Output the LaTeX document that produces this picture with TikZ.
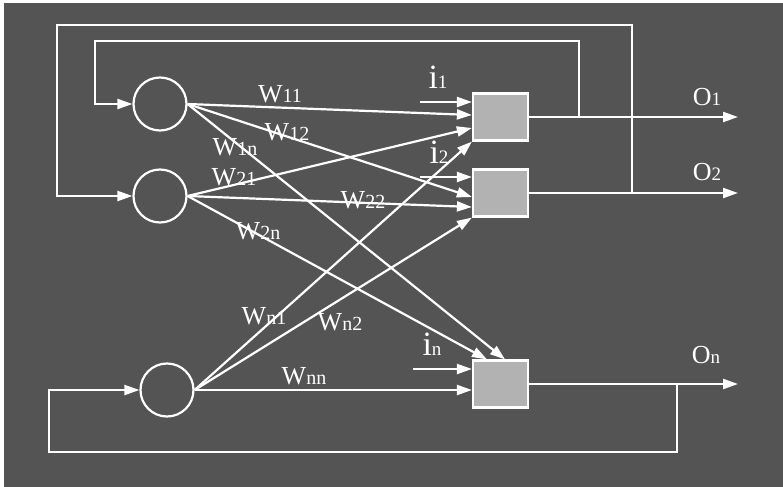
\documentclass[tikz,border=0pt]{standalone}
\usepackage{fontspec}
\setmainfont{Liberation Serif}
\usetikzlibrary{arrows.meta}
\definecolor{bgray}{RGB}{84,84,84}
\definecolor{boxgray}{RGB}{178,178,178}
\newcommand{\wlab}[1]{{\fontsize{13}{13}\selectfont W}{\fontsize{10}{10}\selectfont #1}}
\newcommand{\ilab}[1]{{\fontsize{17}{17}\selectfont i}{\fontsize{9.5}{9.5}\selectfont #1}}
\newcommand{\olab}[1]{{\fontsize{13}{13}\selectfont O}{\fontsize{9.5}{9.5}\selectfont #1}}

\begin{document}
\begin{tikzpicture}[x=0.5pt,y=-0.5pt,
  wire/.style={white,line width=1.1pt},
  arr/.style={wire,-{Triangle[length=7.5pt,width=5pt]}},
  neuron/.style={circle,draw=white,line width=1.1pt,minimum size=26.5pt,inner sep=0pt},
  unit/.style={rectangle,draw=white,line width=1.1pt,fill=boxgray,minimum width=27.5pt,minimum height=23.5pt,inner sep=0pt},
  lab/.style={white,inner sep=0pt}]
  \useasboundingbox (0,0) rectangle (783,487);
  \fill[bgray] (4,3) rectangle (783,487);

  % neurons and units
  \node[neuron] (c1) at (160,104) {};
  \node[neuron] (c2) at (160,196) {};
  \node[neuron] (cn) at (167,390) {};
  \node[unit] (u1) at (500.5,117) {};
  \node[unit] (u2) at (500.5,193) {};
  \node[unit] (un) at (500.5,384) {};

  % inputs and outputs
  \coordinate (in1) at (420,102);
  \coordinate (in2) at (420,177);
  \coordinate (inn) at (413,369);
  \coordinate (out1) at (738,117);
  \coordinate (out2) at (738,193);
  \coordinate (outn) at (738,384);
  \draw[arr] (in1) -- ([yshift=7.5pt]u1.west);
  \draw[arr] (in2) -- ([yshift=8pt]u2.west);
  \draw[arr] (inn) -- ([yshift=7.5pt]un.west);
  \draw[arr] (u1.east) -- (out1);
  \draw[arr] (u2.east) -- (out2);
  \draw[arr] (un.east) -- (outn);

  % weights
  \draw[arr] (c1.east) -- ([yshift=1pt]u1.west);
  \draw[arr] (c1.east) -- ([yshift=-2pt]u2.west);
  \draw[arr] (c1.east) -- ([xshift=2.25pt]un.north);
  \draw[arr] (c2.east) -- ([yshift=-5.5pt]u1.west);
  \draw[arr] (c2.east) -- ([yshift=-7pt]u2.west);
  \draw[arr] (c2.east) -- ([xshift=-6.75pt]un.north);
  \draw[arr] (cn.east) -- (u1.south west);
  \draw[arr] (cn.east) -- (u2.south west);
  \draw[arr] (cn.east) -- ([yshift=-3pt]un.west);

  % feedback loops
  \coordinate (fb1) at (579,117);
  \coordinate (top1) at (95,41);
  \coordinate (fb2) at (632,193);
  \coordinate (top2) at (57,25);
  \coordinate (fbn) at (677,384);
  \coordinate (botn) at (49,452);
  \draw[arr] (fb1) |- (top1) |- (c1.west);
  \draw[arr] (fb2) |- (top2) |- (c2.west);
  \draw[arr] (fbn) |- (botn) |- (cn.west);

  % labels
  \node[lab] (w11) at (280,94) {\wlab{11}};
  \node[lab] (w12) at (287,132) {\wlab{12}};
  \node[lab] (w1n) at (235,147) {\wlab{1n}};
  \node[lab] (w21) at (234,177) {\wlab{21}};
  \node[lab] (w22) at (363,200) {\wlab{22}};
  \node[lab] (w2n) at (258,231) {\wlab{2n}};
  \node[lab] (wn1) at (264,316) {\wlab{n1}};
  \node[lab] (wn2) at (340,322) {\wlab{n2}};
  \node[lab] (wnn) at (304,376) {\wlab{nn}};
  \node[lab] (i1) at (438,77) {\ilab{1}};
  \node[lab] (i2) at (439,152) {\ilab{2}};
  \node[lab] (in) at (432,344) {\ilab{n}};
  \node[lab] (o1) at (707,97) {\olab{1}};
  \node[lab] (o2) at (707,172) {\olab{2}};
  \node[lab] (on) at (706,355) {\olab{n}};
\end{tikzpicture}
\end{document}
